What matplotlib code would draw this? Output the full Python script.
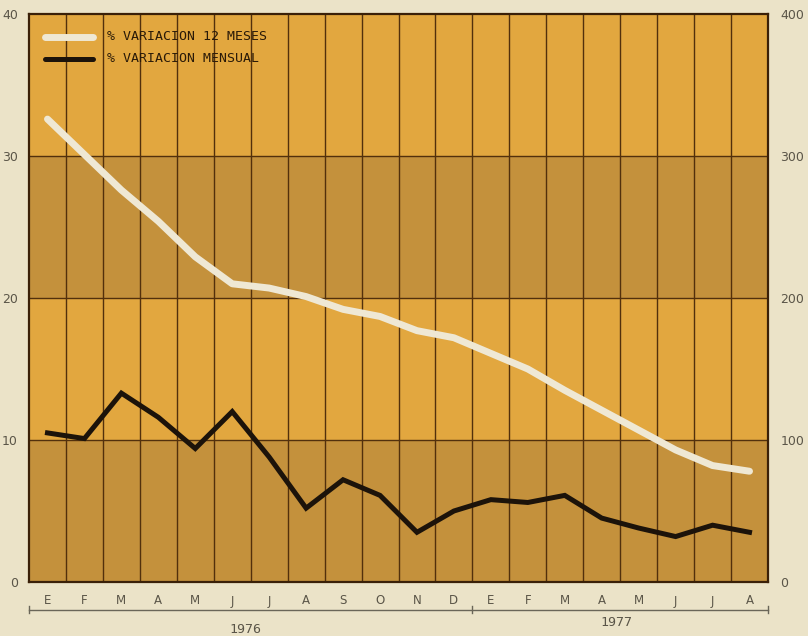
import matplotlib
matplotlib.use("Agg")
import matplotlib.pyplot as plt
import matplotlib.transforms as mtransforms

months = ["E", "F", "M", "A", "M", "J", "J", "A", "S", "O", "N", "D",
          "E", "F", "M", "A", "M", "J", "J", "A"]
years = ["1976", "1977"]

# % variacion 12 meses (right axis, 0-400)
var_12m = [326, 301, 276, 254, 229, 210, 207, 201, 192, 187, 177, 172,
           161, 150, 135, 121, 107, 93, 82, 78]
# % variacion mensual (left axis, 0-40)
var_mensual = [10.5, 10.1, 13.3, 11.6, 9.4, 12.0, 8.8, 5.2, 7.2, 6.1, 3.5, 5.0,
               5.8, 5.6, 6.1, 4.5, 3.8, 3.2, 4.0, 3.5]

legend_labels = ["% VARIACION 12 MESES", "% VARIACION MENSUAL"]

BG = "#ebe3c8"
LIGHT = "#e2a73f"
DARK = "#c4913c"
GRID = "#52300c"
TXT = "#5a5548"
WHITE_LINE = "#efe8d4"
BLACK_LINE = "#1c130a"

fig = plt.figure(figsize=(8.08, 6.36), dpi=100, facecolor=BG)
ax = fig.add_axes([29 / 808, 1 - 582 / 636, (768 - 29) / 808, (582 - 14) / 636])
ax.set_facecolor(LIGHT)

n = len(months)
xs = [i + 0.5 for i in range(n)]
ax.set_xlim(0, n)
ax.set_ylim(0, 40)

# bands
for lo, hi, c in [(0, 10, DARK), (10, 20, LIGHT), (20, 30, DARK), (30, 40, LIGHT)]:
    ax.axhspan(lo, hi, color=c, zorder=0, lw=0)
for y in (10, 20, 30):
    ax.axhline(y, color=GRID, lw=1.0, zorder=1)
for i in range(1, n):
    ax.axvline(i, color=GRID, lw=1.0, zorder=1)

for s in ax.spines.values():
    s.set_color("#3a2008")
    s.set_linewidth(1.6)

ax2 = ax.twinx()
ax2.set_ylim(0, 400)

ax.plot(xs, var_mensual, color=BLACK_LINE, lw=3.6, solid_joinstyle="miter", zorder=3)
ax2.plot(xs, var_12m, color=WHITE_LINE, lw=5.0, solid_capstyle="round", zorder=3)

ax.set_yticks([0, 10, 20, 30, 40])
ax.set_yticklabels(["0", "10", "20", "30", "40"])
ax.tick_params(axis="y", length=0, pad=8, labelsize=9, labelcolor=TXT)
ax2.set_yticks([0, 100, 200, 300, 400])
ax2.set_yticklabels(["0", "100", "200", "300", "400"])
ax2.tick_params(axis="y", length=0, pad=9, labelsize=9, labelcolor=TXT)
for s in ax2.spines.values():
    s.set_visible(False)

ax.set_xticks(xs)
ax.set_xticklabels(months)
ax.tick_params(axis="x", length=0, pad=9, labelsize=8.5, labelcolor=TXT)

# year bracket
trans = mtransforms.blended_transform_factory(ax.transData, ax.transAxes)
yb = -0.049
ax.plot([0, n], [yb, yb], color="#6a6658", lw=1.0, transform=trans, clip_on=False)
for xb in (0, 12, n):
    ax.plot([xb, xb], [yb - 0.006, yb + 0.006], color="#6a6658", lw=1.0,
            transform=trans, clip_on=False)
ax.text(5.85, -0.083, years[0], transform=trans, ha="center", va="center",
        fontsize=9.5, color=TXT, family="DejaVu Sans Mono")
ax.text(15.9, -0.071, years[1], transform=trans, ha="center", va="center",
        fontsize=9.5, color=TXT, family="DejaVu Sans Mono")

# legend (manual)
axt = ax.transAxes
ax.plot([0.022, 0.087], [0.960, 0.960], color=WHITE_LINE, lw=5.0,
        solid_capstyle="round", transform=axt, zorder=5)
ax.plot([0.022, 0.087], [0.921, 0.921], color=BLACK_LINE, lw=3.6,
        solid_capstyle="round", transform=axt, zorder=5)
ax.text(0.105, 0.960, legend_labels[0], transform=axt, va="center", ha="left",
        fontsize=9.5, color="#2a1a08", zorder=5, family="DejaVu Sans Mono")
ax.text(0.105, 0.921, legend_labels[1], transform=axt, va="center", ha="left",
        fontsize=9.5, color="#2a1a08", zorder=5, family="DejaVu Sans Mono")

fig.savefig("out.png", dpi=100, facecolor=BG)
